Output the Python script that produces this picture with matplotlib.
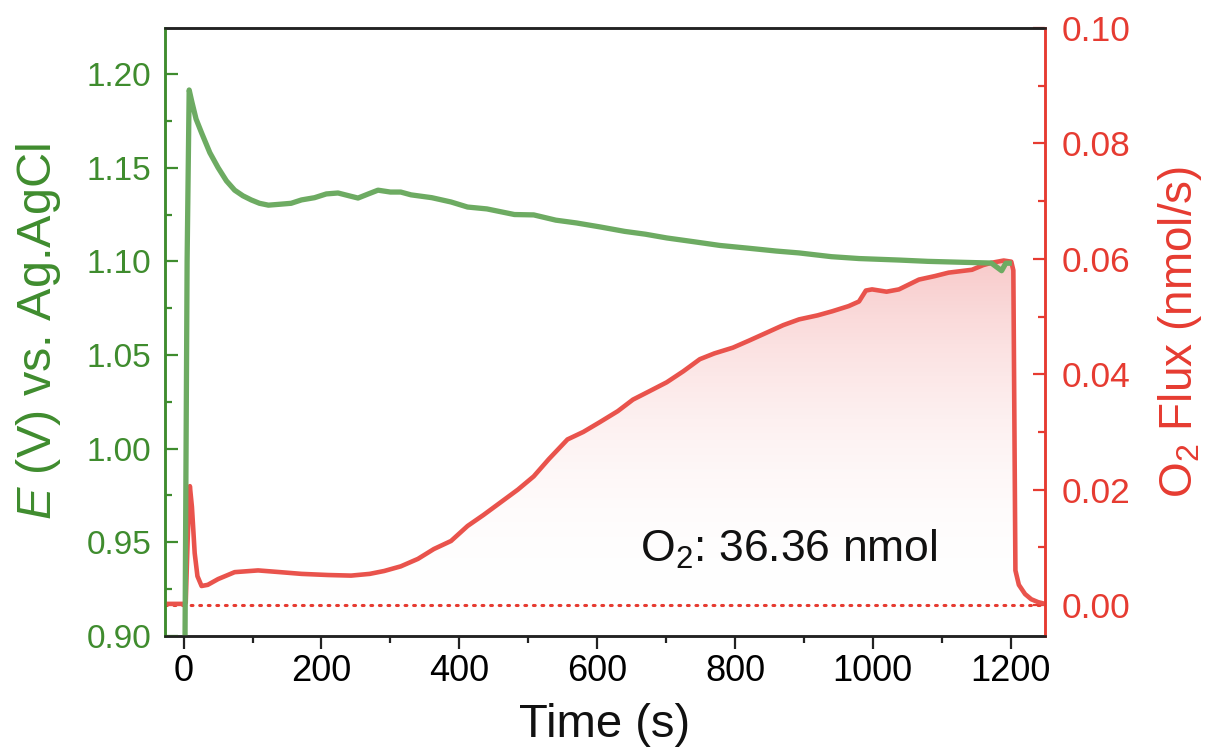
import numpy as np
import matplotlib
matplotlib.use("Agg")
import matplotlib.pyplot as plt
from matplotlib.ticker import MultipleLocator
from matplotlib.colors import LinearSegmentedColormap

plt.rcParams['font.family'] = ['Liberation Sans', 'DejaVu Sans']
plt.rcParams['mathtext.fontset'] = 'custom'
plt.rcParams['mathtext.rm'] = 'Liberation Sans'
plt.rcParams['mathtext.it'] = 'Liberation Sans:italic'

# ---- data ----
t_E = [0, 2, 5, 8, 12, 18, 26, 38, 50, 62, 74, 86, 98, 110, 123, 140, 156, 171,
       190, 207, 224, 240, 253, 268, 282, 300, 315, 330, 360, 388, 412, 440, 460,
       480, 508, 540, 570, 604, 640, 670, 701, 740, 778, 820, 860, 893, 940, 980,
       1038, 1080, 1130, 1172, 1187, 1193, 1198]
E_V = [0.88, 0.90, 1.10, 1.1915, 1.185, 1.176, 1.1686, 1.158, 1.150, 1.143, 1.138,
       1.135, 1.1328, 1.131, 1.130, 1.1305, 1.131, 1.1328, 1.134, 1.136, 1.1365,
       1.135, 1.1338, 1.136, 1.138, 1.137, 1.137, 1.1355, 1.134, 1.1317, 1.129,
       1.128, 1.1265, 1.125, 1.1248, 1.122, 1.1205, 1.1184, 1.116, 1.1145, 1.1125,
       1.1105, 1.1085, 1.107, 1.1055, 1.1045, 1.1025, 1.1015, 1.1007, 1.100,
       1.0995, 1.0991, 1.095, 1.099, 1.099]

t_F = [-27, 0, 3, 6, 9, 12, 16, 20, 26, 35, 50, 74, 108, 140, 171, 210, 243, 270,
       291, 315, 340, 363, 388, 412, 435, 460, 485, 508, 530, 557, 580, 604, 630,
       652, 675, 701, 725, 749, 770, 797, 820, 846, 870, 893, 920, 941, 965, 980,
       990, 999, 1020, 1038, 1067, 1090, 1110, 1144, 1160, 1172, 1190, 1201, 1204,
       1207, 1212, 1221, 1230, 1240, 1250]
F_O2 = [0.0002, 0.0002, 0.0004, 0.012, 0.0206, 0.017, 0.009, 0.005, 0.0033, 0.0035,
        0.0045, 0.0057, 0.006, 0.0057, 0.0054, 0.0052, 0.0051, 0.0054, 0.0059,
        0.0067, 0.008, 0.0097, 0.0111, 0.0137, 0.0156, 0.0178, 0.020, 0.0223,
        0.0253, 0.0287, 0.030, 0.0317, 0.0336, 0.0356, 0.037, 0.0386, 0.0405,
        0.0426, 0.0436, 0.0446, 0.0458, 0.0472, 0.0485, 0.0495, 0.0502, 0.0509,
        0.0518, 0.0526, 0.0545, 0.0547, 0.0543, 0.0547, 0.0564, 0.0570, 0.0576,
        0.0581, 0.0589, 0.0593, 0.0597, 0.0595, 0.058, 0.006, 0.0035, 0.0019,
        0.001, 0.0005, 0.0002]

baseline_t = [-27, 1250]
baseline_F = [0.0, 0.0]

x_ticks = [0, 200, 400, 600, 800, 1000, 1200]
E_ticks = [0.90, 0.95, 1.00, 1.05, 1.10, 1.15, 1.20]
F_ticks = [0.00, 0.02, 0.04, 0.06, 0.08, 0.10]
annotation = "O$_2$: 36.36 nmol"

# ---- style ----
GREEN_LINE = '#6dab62'
GREEN_AX = '#3f8c2e'
RED_LINE = '#e9534c'
RED_AX = '#e63b31'

fig = plt.figure(figsize=(12.19, 7.52), dpi=100)
ax = fig.add_axes([0.1354, 0.1543, 0.8573 - 0.1354, 0.9628 - 0.1543])
ax2 = ax.twinx()
ax.set_zorder(1)
ax.patch.set_visible(False)
ax2.set_zorder(0)

# flux with gradient fill
ax2.set_xlim(-27, 1250)
ax2.set_ylim(-0.00536, 0.10)
poly = ax2.fill_between(t_F, F_O2, 0, color='none', lw=0)
cmap = LinearSegmentedColormap.from_list('g', [(1, 1, 1, 0), (0.93, 0.45, 0.45, 0.38)])
grad = np.linspace(0, 1, 256).reshape(-1, 1)
im = ax2.imshow(grad, extent=[-27, 1250, 0, 0.06], origin='lower', aspect='auto',
                cmap=cmap, zorder=1)
im.set_clip_path(poly.get_paths()[0], transform=ax2.transData)
ax2.plot(baseline_t, baseline_F, color=RED_AX, lw=2.2, ls=(0, (0.6, 2.2)),
         dash_capstyle='round', zorder=2)
ax2.plot(t_F, F_O2, color=RED_LINE, lw=3.3, zorder=3)
ax2.set_xlim(-27, 1250)
ax2.set_ylim(-0.00536, 0.10)

# potential
ax.plot(t_E, E_V, color=GREEN_LINE, lw=3.8, zorder=2)
ax.set_xlim(-27, 1250)
ax.set_ylim(0.90, 1.2246)

# ticks
ax.set_xticks(x_ticks)
ax.xaxis.set_minor_locator(MultipleLocator(100))
ax.set_yticks(E_ticks)
ax.set_yticklabels([f"{v:.2f}" for v in E_ticks])
ax.yaxis.set_minor_locator(MultipleLocator(0.025))
ax2.set_yticks(F_ticks)
ax2.set_yticklabels([f"{v:.2f}" for v in F_ticks])
ax2.yaxis.set_minor_locator(MultipleLocator(0.01))

ax.tick_params(axis='x', which='both', direction='out', bottom=True, top=False,
               labelsize=26, pad=4, color='#222222', width=1.6)
ax.tick_params(axis='x', which='major', length=9)
ax.tick_params(axis='x', which='minor', length=5)

ax.tick_params(axis='y', which='both', direction='in', left=True, right=False,
               colors=GREEN_AX, labelsize=24, pad=10, width=1.6)
ax.tick_params(axis='y', which='major', length=9)
ax.tick_params(axis='y', which='minor', length=5)
ax2.tick_params(axis='y', which='both', direction='in', right=True, left=False,
                colors=RED_AX, labelsize=25.5, pad=12, width=1.6)
ax2.tick_params(axis='y', which='major', length=9)
ax2.tick_params(axis='y', which='minor', length=5)

# top ticks (inward) via ax2's x-axis
ax2.set_xticks(x_ticks)
ax2.xaxis.set_minor_locator(MultipleLocator(100))
ax2.xaxis.set_ticks_position('top')
ax2.tick_params(axis='x', which='both', direction='in', top=True, bottom=False,
                labeltop=False, labelbottom=False, color='#222222', width=1.6)
ax2.tick_params(axis='x', which='major', length=9)
ax2.tick_params(axis='x', which='minor', length=5)

for a in (ax, ax2):
    for s in a.spines.values():
        s.set_linewidth(1.8)
    a.spines['top'].set_color('#222222')
    a.spines['bottom'].set_color('#222222')
    a.spines['left'].set_color(GREEN_AX)
    a.spines['right'].set_color(RED_AX)

ax.set_xlabel("Time (s)", fontsize=34, labelpad=10, color='#111111')
ax.set_ylabel("$E$ (V) vs. Ag.AgCl", fontsize=35, color=GREEN_AX, labelpad=17)
ax2.set_ylabel("O$_2$ Flux (nmol/s)", fontsize=33, color=RED_AX, labelpad=18,
               rotation=90)

ax.text(0.54, 0.143, annotation, transform=ax.transAxes, fontsize=32,
        color='#111111', ha='left', va='center', zorder=5)

fig.savefig("out.png", dpi=100)
